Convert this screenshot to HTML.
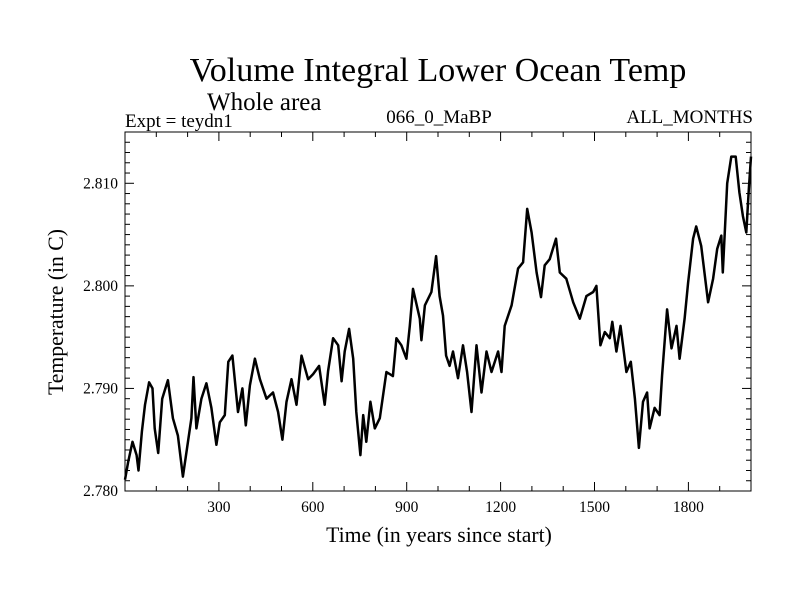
<!DOCTYPE html>
<html><head><meta charset="utf-8"><style>
body{margin:0;background:#fff}
svg{display:block;font-family:"Liberation Serif",serif}
</style></head><body>
<svg id="chart" width="800" height="600" viewBox="0 0 800 600">
<text x="438" y="81" font-size="34" text-anchor="middle">Volume Integral Lower Ocean Temp</text>
<text x="207" y="110" font-size="25">Whole area</text>
<text x="125" y="127" font-size="19">Expt = teydn1</text>
<text x="439" y="123" font-size="19" text-anchor="middle">066_0_MaBP</text>
<text x="753" y="123" font-size="19" text-anchor="end">ALL_MONTHS</text>
<text transform="translate(63,312) rotate(-90)" font-size="21.7" text-anchor="middle">Temperature (in C)</text>
<text x="439" y="542" font-size="21.7" text-anchor="middle">Time (in years since start)</text>
<g id="axes"></g>
<path id="series" fill="none" stroke="#000" stroke-width="2.5" stroke-linejoin="round"/>
<rect x="125" y="132" width="626" height="359" fill="none" stroke="#000" stroke-width="1"/>
</svg>
<script>
const years=[0,10,24,37,43,54,64,77,88,95,106,119,137,153,169,185,212,219,228,244,260,276,292,303,319,330,343,361,375,386,399,415,431,452,473,489,503,516,532,548,564,585,601,620,638,649,665,681,692,702,716,729,739,752,761,771,784,798,814,835,856,867,883,899,910,920,942,947,958,979,994,1005,1016,1026,1037,1048,1064,1080,1093,1107,1123,1139,1155,1171,1192,1203,1213,1235,1256,1272,1285,1299,1315,1329,1341,1357,1377,1389,1410,1432,1453,1474,1496,1506,1519,1533,1549,1557,1570,1583,1602,1616,1629,1642,1655,1668,1676,1692,1708,1716,1732,1746,1762,1772,1788,1799,1815,1825,1841,1863,1879,1892,1905,1910,1924,1937,1951,1963,1974,1985,1993,2000];
const temps=[2.7811,2.7828,2.7848,2.7835,2.7820,2.7858,2.7884,2.7906,2.7900,2.7861,2.7837,2.7890,2.7908,2.7871,2.7854,2.7814,2.7871,2.7911,2.7861,2.7890,2.7905,2.7881,2.7845,2.7867,2.7874,2.7926,2.7932,2.7877,2.7900,2.7864,2.7903,2.7929,2.7909,2.7890,2.7896,2.7877,2.7850,2.7887,2.7909,2.7884,2.7932,2.7909,2.7914,2.7922,2.7884,2.7917,2.7949,2.7942,2.7907,2.7936,2.7958,2.7929,2.7877,2.7835,2.7874,2.7848,2.7887,2.7861,2.7871,2.7916,2.7912,2.7949,2.7942,2.7929,2.7961,2.7997,2.7968,2.7947,2.7981,2.7994,2.8029,2.7990,2.7971,2.7932,2.7922,2.7936,2.7910,2.7942,2.7916,2.7877,2.7942,2.7896,2.7936,2.7916,2.7936,2.7916,2.7961,2.7981,2.8017,2.8023,2.8075,2.8052,2.8013,2.7989,2.8020,2.8026,2.8046,2.8013,2.8007,2.7984,2.7968,2.7990,2.7994,2.8000,2.7942,2.7955,2.7949,2.7965,2.7936,2.7961,2.7916,2.7926,2.7890,2.7842,2.7887,2.7896,2.7861,2.7881,2.7874,2.7913,2.7977,2.7939,2.7961,2.7929,2.7968,2.8003,2.8046,2.8058,2.8039,2.7984,2.8007,2.8036,2.8049,2.8013,2.8100,2.8126,2.8126,2.8091,2.8068,2.8052,2.8094,2.8126];
const xTicks=[300,600,900,1200,1500,1800];
const xTickLabels=["300","600","900","1200","1500","1800"];
const yTicks=[2.780,2.790,2.800,2.810];
const yTickLabels=["2.780","2.790","2.800","2.810"];
const X0=125,X1=751,Y0=491,Y1=132,xmin=0,xmax=2000,ymin=2.780,ymax=2.815;
const sx=v=>X0+(v-xmin)/(xmax-xmin)*(X1-X0);
const sy=v=>Y0-(v-ymin)/(ymax-ymin)*(Y0-Y1);
const NS="http://www.w3.org/2000/svg";
const axes=document.getElementById('axes');
function line(x1,y1,x2,y2,name){const l=document.createElementNS(NS,'line');
l.setAttribute('x1',x1);l.setAttribute('y1',y1);l.setAttribute('x2',x2);l.setAttribute('y2',y2);
l.setAttribute('stroke','#000');l.setAttribute('stroke-width','1');


axes.appendChild(l);}
function text(x,y,s,anchor,name){const t=document.createElementNS(NS,'text');
t.setAttribute('x',x);t.setAttribute('y',y);t.setAttribute('font-size','15.5');t.setAttribute('text-anchor',anchor);t.textContent=s;


axes.appendChild(t);}
for(let v=100;v<2000;v+=100){const major=v%300===0;const L=major?9:5;const x=sx(v);
line(x,Y0,x,Y0-L,'x-tick');line(x,Y1,x,Y1+L,'x-tick-top');}
xTicks.forEach((v,i)=>text(sx(v),512,xTickLabels[i],'middle','x-tick-label'));
for(let k=1;k<35;k++){const v=ymin+k*0.001;const major=k%10===0;const L=major?9:5;const y=sy(v);
line(X0,y,X0+L,y,'y-tick');line(X1,y,X1-L,y,'y-tick-right');}
yTicks.forEach((v,i)=>text(118,sy(v)+5,yTickLabels[i],'end','y-tick-label'));
let d='';years.forEach((t,i)=>{d+=(i?'L':'M')+sx(t).toFixed(1)+' '+sy(temps[i]).toFixed(1);});
document.getElementById('series').setAttribute('d',d);
</script>
</body></html>
